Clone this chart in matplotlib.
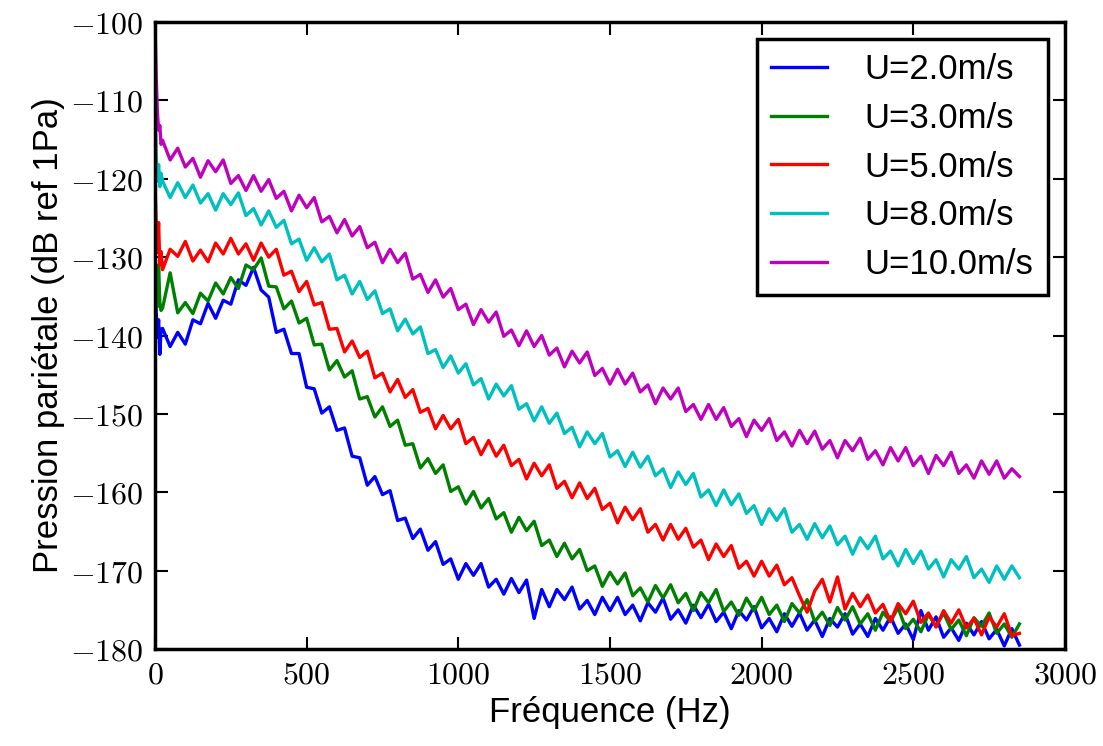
import numpy as np
import matplotlib
matplotlib.use("Agg")
import matplotlib.pyplot as plt
from matplotlib.ticker import FuncFormatter

# frequency grid (Hz): fine at the very start, then every 25 Hz up to 2850
freq = np.concatenate([[0, 4, 8, 12, 16, 20], np.arange(25, 2851, 25)])

# wall-pressure spectra (dB ref 1Pa)
u2 = [-133.5, -137.0, -140.2, -138.0, -142.4, -139.2,
      -139.1, -141.4, -139.6, -141.1, -138.0, -138.5, -135.9, -137.8, -135.5, -136.0,
      -132.9, -133.6, -131.3, -134.2, -135.1, -139.6, -139.2, -142.3, -142.3, -146.6,
      -146.8, -149.9, -149.1, -152.1, -151.8, -155.4, -155.6, -159.1, -158.0, -160.3,
      -159.8, -163.6, -163.3, -165.9, -164.7, -167.4, -166.3, -169.2, -168.5, -171.1,
      -169.1, -170.6, -169.1, -172.1, -171.1, -173.0, -171.0, -172.8, -171.2, -176.1,
      -172.4, -174.6, -172.4, -173.7, -172.1, -174.9, -173.8, -175.6, -173.4, -175.1,
      -173.4, -175.6, -174.4, -176.4, -174.1, -175.3, -173.5, -176.2, -175.0, -176.7,
      -174.4, -176.0, -174.3, -176.5, -175.3, -177.4, -175.1, -176.3, -174.6, -177.3,
      -176.1, -177.8, -175.5, -177.1, -175.4, -177.6, -176.3, -178.4, -176.1, -177.2,
      -175.5, -178.1, -176.8, -178.4, -176.1, -177.6, -175.9, -178.0, -176.8, -178.8,
      -175.1, -177.6, -175.9, -178.5, -177.3, -178.9, -176.7, -178.2, -176.5, -178.7,
      -177.5, -179.6, -177.4, -179.5]
u3 = [-128.5, -134.0, -136.3, -131.0, -135.9, -136.8,
      -136.5, -132.0, -137.1, -135.8, -137.2, -134.6, -135.6, -133.3, -134.7, -132.6,
      -134.0, -131.0, -131.6, -130.1, -133.7, -133.8, -136.6, -135.6, -138.4, -137.8,
      -141.2, -141.1, -144.4, -143.2, -145.3, -144.5, -148.1, -147.8, -150.4, -149.1,
      -151.6, -150.8, -154.0, -153.8, -156.9, -155.7, -157.6, -156.5, -159.9, -159.3,
      -161.5, -159.9, -162.0, -160.8, -163.4, -162.6, -165.1, -163.2, -164.9, -163.7,
      -166.8, -166.1, -168.2, -166.5, -168.5, -167.3, -170.0, -169.4, -172.0, -170.2,
      -171.7, -170.3, -173.2, -172.2, -174.0, -171.9, -173.5, -171.8, -174.1, -172.9,
      -175.1, -172.8, -174.1, -172.4, -175.2, -174.0, -175.7, -173.5, -175.1, -173.4,
      -175.6, -174.4, -176.5, -174.2, -175.4, -173.7, -176.5, -175.3, -177.0, -174.7,
      -176.3, -174.6, -176.8, -175.5, -177.6, -175.3, -176.5, -174.7, -177.4, -176.2,
      -177.8, -175.6, -177.1, -175.4, -177.5, -176.3, -178.3, -176.0, -177.1, -175.4,
      -178.0, -176.8, -178.5, -176.8]
u5 = [-120.5, -125.8, -129.4, -125.6, -131.0, -129.3,
      -131.6, -129.0, -129.9, -128.0, -130.5, -129.1, -130.6, -128.2, -129.6, -127.6,
      -129.6, -128.3, -130.4, -128.2, -130.0, -129.0, -132.3, -131.8, -134.4, -133.1,
      -136.1, -135.8, -139.2, -139.1, -142.1, -140.7, -142.8, -142.0, -145.4, -144.8,
      -147.2, -145.6, -147.9, -146.9, -149.8, -149.3, -151.9, -150.2, -151.9, -150.7,
      -153.8, -153.0, -155.2, -153.4, -155.4, -154.0, -156.6, -155.8, -158.3, -156.3,
      -157.9, -156.5, -159.5, -158.6, -160.7, -158.8, -160.8, -159.5, -162.2, -161.4,
      -163.9, -161.9, -163.5, -162.1, -165.1, -164.1, -166.1, -164.1, -166.0, -164.6,
      -167.0, -166.1, -168.6, -166.6, -168.2, -166.8, -169.7, -168.8, -170.7, -168.8,
      -170.7, -169.3, -171.8, -170.9, -173.2, -175.3, -172.6, -171.1, -174.0, -170.8,
      -174.9, -172.9, -174.6, -173.1, -175.4, -174.3, -176.5, -174.2, -175.5, -173.9,
      -176.6, -175.4, -177.2, -175.1, -176.7, -175.0, -177.3, -176.1, -178.2, -175.9,
      -177.2, -175.5, -178.3, -178.0]
u8 = [-110.5, -116.8, -120.3, -118.2, -121.0, -119.3,
      -120.3, -122.4, -120.5, -122.4, -120.8, -123.1, -121.9, -124.0, -121.9, -123.3,
      -121.8, -124.7, -123.8, -125.9, -124.1, -126.2, -125.3, -128.3, -127.7, -130.4,
      -128.8, -130.6, -129.6, -132.9, -132.3, -134.7, -133.1, -135.4, -134.3, -137.2,
      -136.6, -139.4, -137.9, -139.8, -138.9, -142.3, -141.8, -144.1, -142.6, -144.8,
      -143.6, -146.3, -145.5, -148.1, -146.2, -147.7, -146.4, -149.4, -148.7, -150.9,
      -149.1, -151.2, -149.9, -152.5, -151.7, -154.2, -152.3, -153.8, -152.5, -155.5,
      -154.7, -156.7, -154.9, -156.8, -155.4, -157.9, -157.0, -159.4, -157.4, -159.0,
      -157.6, -160.6, -159.7, -161.7, -159.7, -161.6, -160.2, -162.7, -161.7, -164.1,
      -162.1, -163.6, -162.1, -165.1, -164.1, -166.0, -164.0, -165.8, -164.3, -166.7,
      -165.6, -167.9, -165.8, -167.2, -165.6, -168.5, -167.5, -169.4, -167.3, -169.1,
      -167.5, -169.8, -168.6, -170.8, -168.6, -169.8, -168.2, -170.9, -169.8, -171.5,
      -169.4, -171.1, -169.4, -170.9]
u10 = [-100.0, -107.0, -111.5, -113.8, -113.2, -115.6,
       -115.1, -117.6, -116.1, -118.5, -117.4, -119.8, -117.7, -119.1, -117.6, -120.6,
       -119.6, -121.5, -119.6, -121.6, -120.1, -122.5, -121.6, -124.1, -122.1, -123.7,
       -122.4, -125.5, -124.8, -126.9, -125.2, -127.3, -126.1, -128.8, -128.1, -130.7,
       -129.0, -130.7, -129.5, -132.8, -132.2, -134.5, -132.9, -135.1, -134.0, -136.7,
       -136.0, -138.6, -136.7, -138.3, -137.0, -140.1, -139.3, -141.3, -139.4, -141.4,
       -140.0, -142.5, -141.6, -144.0, -142.0, -143.5, -142.1, -145.1, -144.2, -146.2,
       -144.3, -146.2, -144.8, -147.2, -146.3, -148.7, -146.7, -148.1, -146.7, -149.7,
       -148.8, -150.7, -148.8, -150.7, -149.2, -151.6, -150.6, -152.9, -150.8, -152.1,
       -150.6, -153.4, -152.3, -154.1, -152.1, -153.8, -152.2, -154.5, -153.4, -155.6,
       -153.4, -154.7, -153.1, -155.8, -154.7, -156.5, -154.3, -156.0, -154.3, -156.6,
       -155.4, -157.6, -155.3, -156.6, -154.9, -157.6, -156.5, -158.2, -156.0, -157.7,
       -156.0, -158.2, -157.0, -158.0]

speeds = [2.0, 3.0, 5.0, 8.0, 10.0]
series = [u2, u3, u5, u8, u10]
colors = ['#0000ff', '#008000', '#ff0000', '#00bfbf', '#bf00bf']

plt.rcParams['mathtext.fontset'] = 'cm'
plt.rcParams['font.family'] = ['Liberation Sans', 'DejaVu Sans']

fig = plt.figure(figsize=(11.03, 7.46), dpi=100)
ax = fig.add_axes([0.1405, 0.130, 0.825, 0.8405])

for u, vals, c in zip(speeds, series, colors):
    ax.plot(freq, vals, color=c, lw=2.4, label='U=%.1fm/s' % u)

ax.set_xlim(0, 3000)
ax.set_ylim(-180, -100)
ax.set_xticks(np.arange(0, 3001, 500))
ax.set_yticks(np.arange(-180, -99, 10))
ax.xaxis.set_major_formatter(FuncFormatter(lambda v, p: r'$%d$' % v))
ax.yaxis.set_major_formatter(FuncFormatter(lambda v, p: r'$%d$' % v))
ax.tick_params(direction='in', top=True, right=True, length=9, width=1.5,
               labelsize=23, pad=8)
for s in ax.spines.values():
    s.set_linewidth(2.5)

ax.set_xlabel('Fréquence (Hz)', fontsize=25)
ax.set_ylabel('Pression pariétale (dB ref 1Pa)', fontsize=25)

leg = ax.legend(loc='upper right', fontsize=25, fancybox=False, framealpha=1,
                handlelength=1.6, handletextpad=1.1, labelspacing=0.45)
leg.get_frame().set_edgecolor('black')
leg.get_frame().set_linewidth(2.5)

fig.savefig('out.png', dpi=100)
